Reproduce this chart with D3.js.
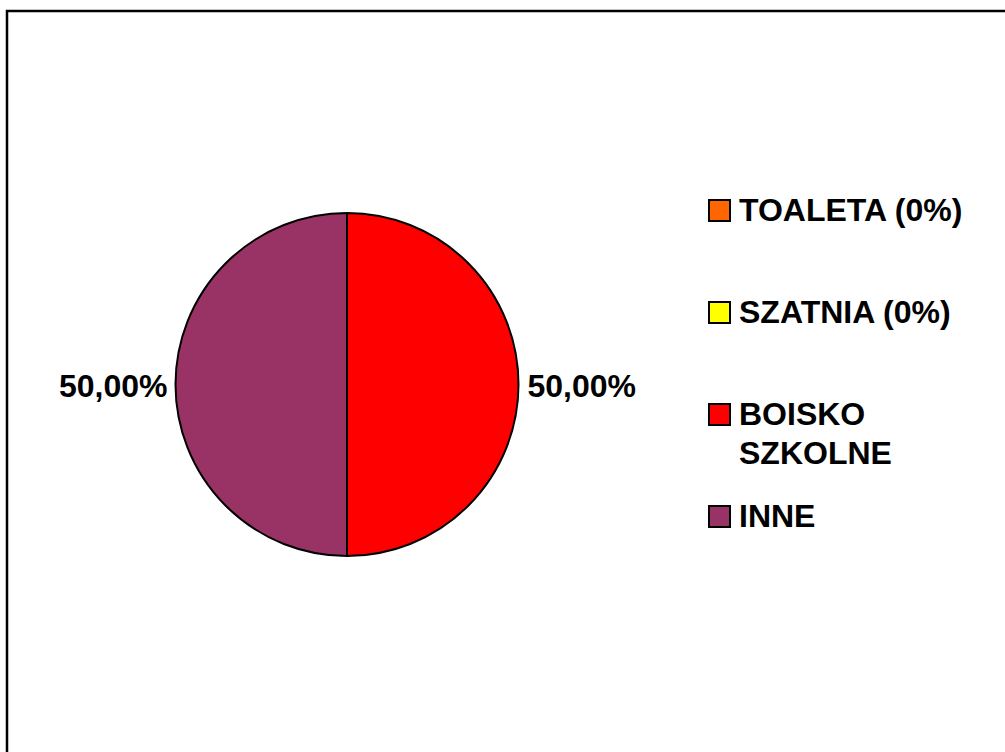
<!DOCTYPE html>
<html lang="pl">
<head>
    <meta charset="UTF-8">
    <title>Pie</title>
    <script src="https://d3js.org/d3.v7.min.js"></script>
    <style>
        body {margin: 0; background: white;}
        text {
            font-family: "Liberation Sans", Arial, sans-serif;
            font-weight: bold;
            fill: black;
        }
    </style>
</head>
<body>
<script>
    const width = 1005;
    const height = 752;

    const categories = ["TOALETA (0%)", "SZATNIA (0%)", "BOISKO SZKOLNE", "INNE"];
    const values = [0, 0, 50, 50];
    const colors = ["#FF6600", "#FFFF00", "#FF0000", "#993366"];
    const legendLines = [["TOALETA (0%)"], ["SZATNIA (0%)"], ["BOISKO", "SZKOLNE"], ["INNE"]];

    const svg = d3.select("body").append("svg")
            .attr("width", width).attr("height", height);

    // chart border (right/bottom run off the page)
    svg.append("rect")
            .attr("x", 7).attr("y", 11)
            .attr("width", 1010).attr("height", 760)
            .style("fill", "white")
            .style("stroke", "black")
            .style("stroke-width", 2.5);

    const cx = 347, cy = 384.5, r = 171.5;

    const pie = d3.pie().sort(null).value(d => d)(values);
    const arc = d3.arc().innerRadius(0).outerRadius(r);

    const g = svg.append("g").attr("transform", `translate(${cx},${cy})`);

    g.selectAll("path.slice")
            .data(pie)
            .enter()
            .append("path")
            .attr("class", "slice")
            .attr("d", arc)
            .style("fill", (d, i) => colors[i])
            .style("stroke", "black")
            .style("stroke-width", 2);

    const total = d3.sum(values);
    const fmt = v => (v / total * 100).toFixed(2).replace(".", ",") + "%";

    g.selectAll("text.pct")
            .data(pie.filter(d => d.value > 0))
            .enter()
            .append("text")
            .attr("class", "pct")
            .style("font-size", "32px")
            .attr("x", d => {
                const a = (d.startAngle + d.endAngle) / 2;
                return Math.sin(a) > 0 ? r + 9 : -r - 8;
            })
            .attr("y", 12)
            .attr("text-anchor", d => Math.sin((d.startAngle + d.endAngle) / 2) > 0 ? "start" : "end")
            .text(d => fmt(d.value));

    // legend
    const legendY = d3.scalePoint().domain(categories).range([221, 527]);
    const legend = svg.selectAll("g.legend")
            .data(categories)
            .enter()
            .append("g")
            .attr("class", "legend")
            .attr("transform", d => `translate(709,${legendY(d)})`);

    legend.append("rect")
            .attr("x", 0).attr("y", -21)
            .attr("width", 21).attr("height", 21)
            .style("fill", (d, i) => colors[i])
            .style("stroke", "black")
            .style("stroke-width", 2);

    legend.append("text")
            .style("font-size", "32px")
            .attr("x", 30)
            .attr("y", 0)
            .selectAll("tspan")
            .data((d, i) => legendLines[i])
            .enter()
            .append("tspan")
            .attr("x", 30)
            .attr("dy", (d, i) => i === 0 ? 0 : 39)
            .text(d => d);
</script>
</body>
</html>
